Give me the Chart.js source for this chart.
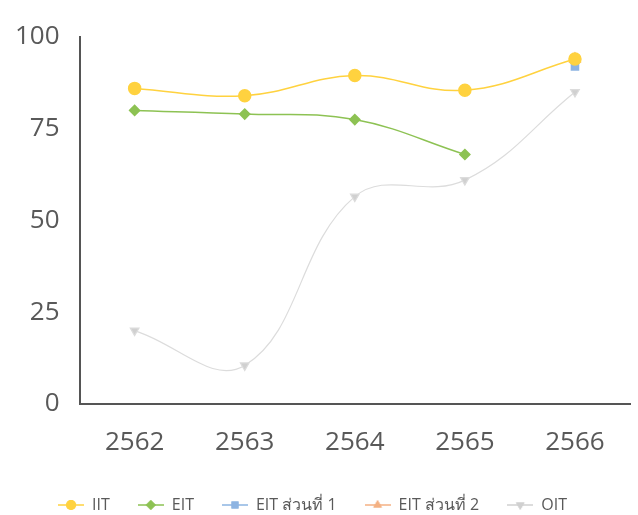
<!DOCTYPE html>
<html>
<head>
<meta charset="utf-8">
<script src="https://cdn.jsdelivr.net/npm/chart.js@4"></script>
<style>
  html, body { margin: 0; padding: 0; background: #fff; }
  #wrap { width: 638px; height: 515px; }
</style>
</head>
<body>
<div id="wrap"><canvas id="lineChart"></canvas></div>
<script>
// data
const years = ['2562', '2563', '2564', '2565', '2566'];
const iit = [86, 84, 89.5, 85.5, 94];
const eit = [80, 79, 77.5, 68, null];
const eitPart1 = [null, null, null, null, 92];
const eitPart2 = [null, null, null, null, 94];
const oit = [20, 10.5, 56.5, 61, 85];
const yTicks = [0, 25, 50, 75, 100];

Chart.defaults.font.family = '"Open Sans", "Noto Sans", sans-serif';
Chart.defaults.color = '#595959';

// legend swatch: short line with the marker on it
function swatch(color, style, rot) {
    const c = document.createElement('canvas');
    c.width = 26; c.height = 14;
    const ctx = c.getContext('2d');
    ctx.strokeStyle = color; ctx.lineWidth = 1.5;
    ctx.beginPath(); ctx.moveTo(0, 7); ctx.lineTo(26, 7); ctx.stroke();
    ctx.fillStyle = color;
    Chart.helpers.drawPoint(ctx, { pointStyle: style, radius: 5, rotation: rot || 0, borderWidth: 0 }, 13, 7);
    ctx.fill();
    return c;
}

const chart = new Chart(document.getElementById('lineChart'), {
    type: 'line',
    data: {
        labels: years,
        datasets: [
            {
                label: 'IIT', data: iit,
                borderColor: '#FFD23F', backgroundColor: '#FFD23F',
                pointStyle: 'circle', pointRadius: 6, borderWidth: 1.5, tension: 0.4
            },
            {
                label: 'EIT', data: eit,
                borderColor: '#8DC253', backgroundColor: '#8DC253',
                pointStyle: 'rectRot', pointRadius: 5, borderWidth: 1.5, tension: 0.4
            },
            {
                label: 'EIT ส่วนที่ 1', data: eitPart1,
                borderColor: '#8DB4E2', backgroundColor: '#8DB4E2',
                pointStyle: 'rect', pointRadius: 5, borderWidth: 1.5, tension: 0.4
            },
            {
                label: 'EIT ส่วนที่ 2', data: eitPart2,
                borderColor: '#F4B183', backgroundColor: '#F4B183',
                pointStyle: 'triangle', pointRadius: 6, borderWidth: 1.5, tension: 0.4
            },
            {
                label: 'OIT', data: oit,
                borderColor: '#DCDCDC', backgroundColor: '#D0D0D0',
                pointStyle: 'triangle', pointRotation: 180, pointRadius: 5, borderWidth: 1.2, tension: 0.4
            }
        ]
    },
    options: {
        responsive: true,
        maintainAspectRatio: false,
        animation: false,
        layout: { padding: { top: 37, right: 8, left: -5, bottom: -8 } },
        plugins: {
            legend: {
                position: 'bottom',
                labels: {
                    usePointStyle: true,
                    pointStyleWidth: 26,
                    boxHeight: 14,
                    padding: 28,
                    font: { size: 16 },
                    color: '#595959',
                    generateLabels: (ch) => ch.data.datasets.map((ds, i) => ({
                        text: ds.label,
                        datasetIndex: i,
                        fontColor: '#595959',
                        pointStyle: swatch(ds.backgroundColor, ds.pointStyle, ds.pointRotation),
                        lineWidth: 0,
                        hidden: false
                    }))
                }
            },
            tooltip: { enabled: false }
        },
        scales: {
            x: {
                offset: true,
                grid: { display: false, drawTicks: false },
                border: { color: '#555', width: 2 },
                ticks: { font: { size: 26 }, color: '#595959', padding: 23 },
                afterFit: (s) => { s.height = 65; }
            },
            y: {
                min: 0, max: 100,
                afterBuildTicks: (axis) => { axis.ticks = yTicks.map(v => ({ value: v })); },
                grid: { display: false, drawTicks: false },
                border: { color: '#555', width: 2 },
                ticks: { font: { size: 26 }, color: '#595959', padding: 20 }
            }
        }
    }
});
</script>
</body>
</html>
